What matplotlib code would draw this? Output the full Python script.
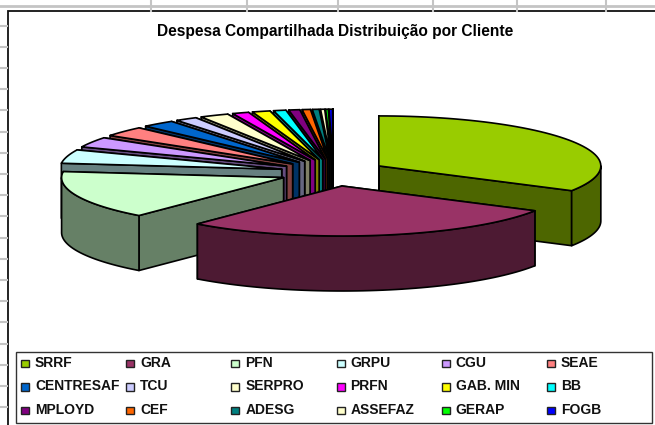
import numpy as np
import matplotlib
matplotlib.use("Agg")
import matplotlib.pyplot as plt
from matplotlib.patches import Polygon, Rectangle

plt.rcParams['font.family'] = ['Liberation Sans', 'DejaVu Sans']

clients = ["SRRF", "GRA", "PFN", "GRPU", "CGU", "SEAE",
           "CENTRESAF", "TCU", "SERPRO", "PRFN", "GAB. MIN", "BB",
           "MPLOYD", "CEF", "ADESG", "ASSEFAZ", "GERAP", "FOGB"]
shares = [33.2, 28.0, 15.6, 4.4, 3.3, 3.2,
          2.4, 1.6, 2.1, 1.2, 1.3, 0.9,
          0.8, 0.6, 0.5, 0.3, 0.2, 0.25]
colors = ["#99CC00", "#993366", "#CCFFCC", "#CCFFFF", "#CC99FF", "#FF8080",
          "#0066CC", "#CCCCFF", "#FFFFCC", "#FF00FF", "#FFFF00", "#00FFFF",
          "#800080", "#FF6600", "#008080", "#FFFFCC", "#00FF00", "#0000FF"]
title = "Despesa Compartilhada Distribuição por Cliente"

# sheet geometry, pixels
W, H = 655, 425
CX, CY = 333, 172.7
RX, RY = 222, 50
EX, EY = 53, 13.5
DEPTH = 55


def darker(c):
    r, g, b, a = matplotlib.colors.to_rgba(c)
    return (r * 0.5, g * 0.5, b * 0.5)


def draw_wedge(ax, t1, t2, color):
    # angles clockwise from 12 o'clock, in radians
    mid = (t1 + t2) / 2
    ax0 = CX + EX * np.sin(mid)
    ay0 = CY - EY * np.cos(mid)
    ts = np.linspace(t1, t2, 60)
    xs = ax0 + RX * np.sin(ts)
    ys = ay0 - RY * np.cos(ts)
    side = darker(color)
    kw = dict(edgecolor="black", linewidth=1.2, joinstyle="round")
    # radial faces
    for x, y in [(xs[-1], ys[-1]), (xs[0], ys[0])]:
        ax.add_patch(Polygon([(ax0, ay0), (x, y), (x, y + DEPTH), (ax0, ay0 + DEPTH)],
                             facecolor=side, **kw))
    # outer rim, only the part that faces the viewer
    lo, hi = max(t1, np.pi / 2), min(t2, 3 * np.pi / 2)
    if hi > lo:
        tr = np.linspace(lo, hi, 60)
        rx = ax0 + RX * np.sin(tr)
        ry = ay0 - RY * np.cos(tr)
        pts = list(zip(rx, ry)) + list(zip(rx[::-1], ry[::-1] + DEPTH))
        ax.add_patch(Polygon(pts, facecolor=side, **kw))
    top = [(ax0, ay0)] + list(zip(xs, ys))
    ax.add_patch(Polygon(top, facecolor=color, **kw))


fig = plt.figure(figsize=(W / 100, H / 100), dpi=100)
ax = fig.add_axes([0, 0, 1, 1])
ax.set_xlim(0, W)
ax.set_ylim(H, 0)
ax.axis("off")

# spreadsheet grid behind the chart
grid = "#c4c4c4"
ax.plot([0, W], [5.5, 5.5], color=grid, lw=2)
for x in [151, 247, 338, 433, 517, 606]:
    ax.plot([x, x], [0, 11], color=grid, lw=1.5)
for y in np.arange(25.5, H, 21.2):
    ax.plot([0, 7], [y, y], color=grid, lw=1.5)

ax.add_patch(Rectangle((7.5, 11), W + 10, H + 10, facecolor="white", edgecolor="#111111", lw=1.3))

ax.text(335, 31, title, ha="center", va="center", fontsize=11.2, fontweight="bold")

# pie
pct = np.array(shares) / sum(shares) * 2 * np.pi
ends = np.cumsum(pct)
starts = ends - pct
order = list(range(len(shares) - 1, 1, -1)) + [0, 1]
for i in order:
    draw_wedge(ax, starts[i], ends[i], colors[i])

# legend
ax.add_patch(Rectangle((15.5, 352), 636, 71, facecolor="white", edgecolor="#333333", lw=1))
for i, name in enumerate(clients):
    row, col = divmod(i, 6)
    x = 21 + col * 105.2
    y = 363 + row * 23.5
    ax.add_patch(Rectangle((x, y - 3.5), 8, 7.5, facecolor=colors[i], edgecolor="#222222", lw=1))
    ax.text(x + 14, y, name, ha="left", va="center", fontsize=10, fontweight="bold",
            color="#111111")

fig.savefig("out.png", dpi=100)
